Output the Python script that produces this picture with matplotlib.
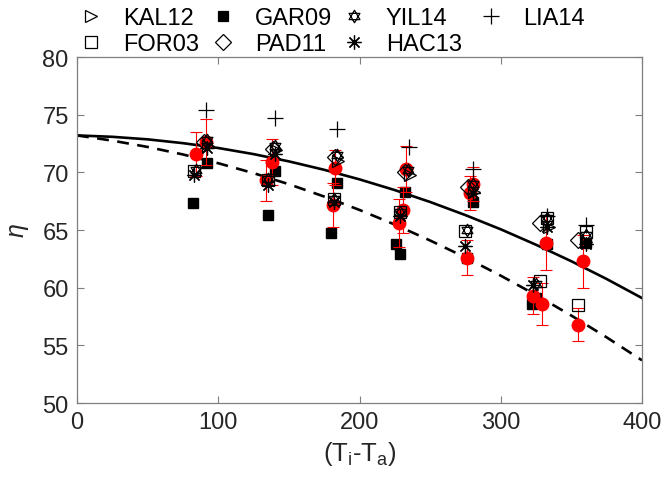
import numpy as np
import matplotlib
matplotlib.use("Agg")
import matplotlib.pyplot as plt
from matplotlib.path import Path
from matplotlib.lines import Line2D

plt.rcParams['font.family'] = ['Liberation Sans', 'DejaVu Sans']
plt.rcParams['mathtext.fontset'] = 'custom'
plt.rcParams['mathtext.rm'] = 'Liberation Sans'
plt.rcParams['mathtext.it'] = 'Liberation Sans:italic'

# ---- data ----
curve_x = [0, 25, 50, 75, 100, 125, 150, 175, 200, 225, 250, 275, 300, 325, 350, 375, 400]
solid_y = [73.2, 73.08, 72.86, 72.53, 72.11, 71.58, 70.95, 70.22, 69.39, 68.46, 67.43, 66.29,
           65.06, 63.72, 62.29, 60.75, 59.1]
dash_y = [73.2, 72.75, 72.2, 71.55, 70.79, 69.93, 68.97, 67.9, 66.74, 65.47, 64.09, 62.62,
          61.04, 59.36, 57.58, 55.69, 53.7]

kal_x = [93, 141, 185, 236, 281, 334, 360]
kal_y = [72.3, 71.9, 71.0, 69.8, 68.3, 65.3, 64.0]

pad_x = [90, 139, 183, 232, 277, 328, 355]
pad_y = [72.6, 72.0, 71.3, 70.0, 68.7, 65.6, 64.1]

yil_x = [84, 92, 135, 140, 182, 184, 229, 234, 276, 280, 325, 333, 360]
yil_y = [70.2, 72.8, 69.4, 72.3, 67.7, 71.5, 66.6, 70.2, 65.0, 69.0, 60.3, 66.0, 64.6]

lia_x = [91, 140, 184, 235, 280, 333, 360]
lia_y = [75.4, 74.7, 73.8, 72.2, 70.3, 66.2, 65.4]

for_x = [83, 135, 182, 229, 275, 328, 355, 333, 360]
for_y = [70.1, 69.3, 67.7, 66.6, 64.9, 60.6, 58.5, 66.0, 64.8]

hac_x = [83, 135, 182, 229, 275, 323, 92, 140, 280, 333, 360]
hac_y = [69.8, 68.9, 67.4, 66.2, 63.6, 60.2, 72.1, 71.6, 68.2, 65.3, 63.8]

gar_x = [82, 92, 135, 140, 180, 184, 226, 229, 232, 280, 276, 322, 325, 333, 360]
gar_y = [67.3, 70.8, 66.3, 70.1, 64.7, 69.1, 63.8, 62.9, 68.3, 67.4, 62.6, 58.6, 59.1, 63.8, 63.9]

red_x = [91, 84, 138, 134, 183, 181, 233, 231, 228, 280, 278, 276, 332, 323, 329, 358, 355]
red_y = [72.6, 71.6, 70.9, 69.3, 70.4, 67.2, 70.3, 66.7, 65.6, 69.0, 68.2, 62.6, 63.9, 59.3,
         58.6, 62.3, 56.8]
red_err = [2.0, 1.9, 2.0, 1.8, 1.5, 1.9, 2.0, 2.0, 2.1, 1.5, 1.5, 1.5, 2.4, 1.6, 1.8, 2.3, 1.4]

x_ticks = [0, 100, 200, 300, 400]
y_ticks = [50, 55, 60, 65, 70, 75, 80]

# hexagram marker (two overlapping triangles)
ang_up = np.deg2rad([90, 210, 330, 90])
ang_dn = np.deg2rad([270, 30, 150, 270])
verts = list(zip(np.cos(ang_up), np.sin(ang_up))) + list(zip(np.cos(ang_dn), np.sin(ang_dn)))
codes = [Path.MOVETO, Path.LINETO, Path.LINETO, Path.CLOSEPOLY] * 2
hexagram = Path(verts, codes)

fig = plt.figure(figsize=(6.62, 4.81), dpi=100)
ax = fig.add_axes([77 / 662, 1 - 404 / 481, (642 - 77) / 662, (404 - 58) / 481])

ax.plot(curve_x, solid_y, color='black', lw=1.9, zorder=2)
ax.plot(curve_x, dash_y, color='black', lw=1.9, ls=(0, (4.5, 3.2)), zorder=2)

ms = 9
ax.plot(gar_x, gar_y, ls='none', marker='s', ms=7, mfc='black', mec='black', zorder=3)
ax.errorbar(red_x, red_y, yerr=red_err, fmt='o', ms=9, color='red', mfc='red', mec='red',
            ecolor='red', elinewidth=0.8, capsize=4, capthick=0.8, zorder=4)

style = dict(ls='none', mfc='none', mec='black', mew=0.9, zorder=5)
ax.plot(kal_x, kal_y, marker='>', ms=ms, **style)
ax.plot(pad_x, pad_y, marker='D', ms=8, **style)
ax.plot(yil_x, yil_y, marker=hexagram, ms=ms, **style)
ax.plot(lia_x, lia_y, marker='+', ms=11, **style)
ax.plot(for_x, for_y, marker='s', ms=8, **style)
ax.plot(hac_x, hac_y, marker=(8, 2, 0), ms=10, **style)

ax.set_xlim(0, 400)
ax.set_ylim(50, 80)
ax.set_xticks(x_ticks)
ax.set_yticks(y_ticks)
ax.tick_params(direction='in', length=5, width=0.8, color='#7f7f7f', labelsize=17,
               labelcolor='#262626', top=True, right=True, pad=6)
for s in ax.spines.values():
    s.set_color('#7f7f7f')
    s.set_linewidth(0.9)

ax.set_xlabel(r'(T$_\mathrm{i}$-T$_\mathrm{a}$)', fontsize=18.5, color='#262626', labelpad=4)
ax.set_ylabel(r'$\eta$', fontsize=18, color='#262626', labelpad=8)

# legend: four columns of equal width
def h(marker, size, filled=False):
    return Line2D([], [], ls='none', marker=marker, ms=size,
                  mfc='black' if filled else 'none', mec='black', mew=0.9)

legend_cols = [
    ([h('>', ms), h('s', 8)], ['KAL12', 'FOR03']),
    ([h('s', 7, True), h('D', 8)], ['GAR09', 'PAD11']),
    ([h(hexagram, ms), h((8, 2, 0), 10)], ['YIL14', 'HAC13']),
    ([h('+', 11)], ['LIA14']),
]
col_px = [79, 211, 342, 479]
for (hs, ls_), xp in zip(legend_cols, col_px):
    fig.legend(hs, ls_, loc='upper left', bbox_to_anchor=(xp / 662, 1 - 8 / 481),
               frameon=False, fontsize=17, handlelength=1.0, handletextpad=0.86,
               labelspacing=0.18, borderpad=0, borderaxespad=0)

fig.savefig('out.png', dpi=100)
